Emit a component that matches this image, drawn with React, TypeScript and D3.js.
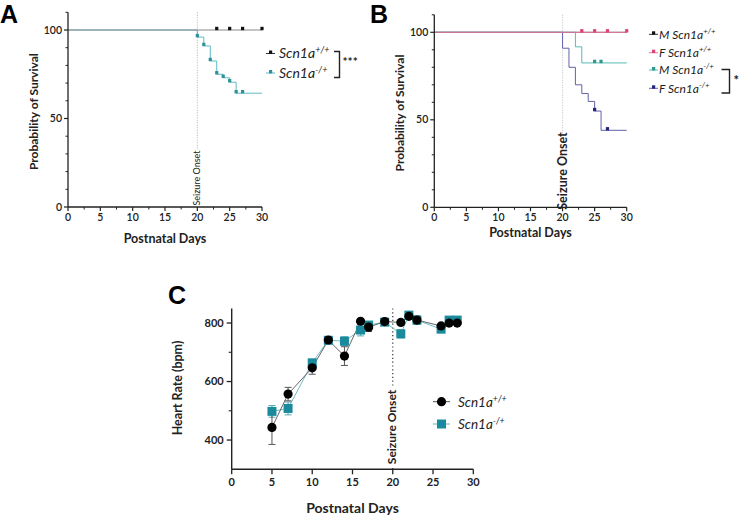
import React from 'react';
import * as d3 from 'd3';

// ---------- data ----------
const survXTicks = [0, 5, 10, 15, 20, 25, 30];
const survXMinor = [2.5, 7.5, 12.5, 17.5, 22.5, 27.5];
const survYTicks = [0, 50, 100];
const survYMinor = [10, 20, 30, 40, 60, 70, 80, 90, 110];
const seizureDay = 20;

// Panel A
const aWtSteps = [{ t: 0, s: 100 }];
const aWtCensor = [23, 25, 27, 30];
const aHetSteps = [
  { t: 0, s: 100 }, { t: 20, s: 96 }, { t: 21, s: 91 }, { t: 22, s: 82.5 },
  { t: 23, s: 75 }, { t: 24, s: 73 }, { t: 25, s: 70.5 }, { t: 26, s: 64.3 },
];
const aHetCensor = [20, 21, 22, 23, 24, 25, 26, 27];

// Panel B
const bMWtSteps = [{ t: 0, s: 100 }];
const bFWtSteps = [{ t: 0, s: 100 }];
const bFWtCensor = [23, 25, 27, 30];
const bMHetSteps = [{ t: 0, s: 100 }, { t: 22, s: 91.7 }, { t: 23, s: 82.5 }];
const bMHetCensor = [25, 26];
const bFHetSteps = [
  { t: 0, s: 100 }, { t: 20, s: 90.9 }, { t: 21, s: 80 }, { t: 22, s: 70 },
  { t: 23, s: 65 }, { t: 24, s: 60.5 }, { t: 25, s: 55 }, { t: 26, s: 44 },
];
const bFHetCensor = [25, 27];

// Panel C
const hrDays = [5, 7, 10, 12, 14, 16, 17, 19, 21, 22, 23, 26, 27, 28];
const wtHR = [443, 557, 647, 742, 687, 806, 786, 805, 802, 823, 810, 790, 800, 800];
const wtErr = [58, 23, 22, 8, 32, 6, 15, 6, 6, 6, 12, 6, 5, 5];
const hetHR = [498, 508, 664, 741, 738, 776, 793, 803, 763, 827, 810, 779, 810, 810];
const hetErr = [20, 22, 10, 8, 15, 20, 10, 8, 14, 6, 15, 8, 5, 5];
const hrXTicks = [0, 5, 10, 15, 20, 25, 30];
const hrYTicks = [400, 600, 800];
const hrYMinor = [500, 700];

const TICK_FONT = 'Lato, "Open Sans", sans-serif';
const LETTER_FONT = '"Liberation Sans", Arial, sans-serif';

type Step = { t: number; s: number };

function survAt(steps: Step[], t: number) {
  let v = steps[0].s;
  for (const st of steps) if (st.t <= t) v = st.s;
  return v;
}

function StepCurve({ steps, x, y, color, tickColor, censor, end }: any) {
  const pts = [...steps, { t: end, s: steps[steps.length - 1].s }];
  const line = d3.line<Step>().x(d => x(d.t)).y(d => y(d.s)).curve(d3.curveStepAfter);
  return (
    <g>
      <path d={line(pts) || ''} fill="none" stroke={color} strokeWidth={1} />
      {(censor || []).map((c: number, i: number) => (
        <rect key={i} x={x(c) - 1.6} y={y(survAt(steps, c)) - 3.2} width={3.2} height={3.4} fill={tickColor} />
      ))}
    </g>
  );
}

function SurvAxes({ x, y, titleY, yTitleX }: any) {
  const [x0, x1] = x.range();
  const [y0, y1] = y.range();
  return (
    <g fontFamily={TICK_FONT} fill="#222">
      <line x1={x0} x2={x0} y1={y0} y2={y1} stroke="#222" strokeWidth={1.3} />
      <line x1={x0} x2={x1} y1={y0} y2={y0} stroke="#222" strokeWidth={1.3} />
      {survYTicks.map(v => (
        <g key={v}>
          <line x1={x0 - 4} x2={x0} y1={y(v)} y2={y(v)} stroke="#222" strokeWidth={1.2} />
          <text x={x0 - 6} y={y(v)} dy="0.35em" textAnchor="end" fontSize={10.5} fontWeight={600}>{v}</text>
        </g>
      ))}
      {survYMinor.map(v => (
        <line key={v} x1={x0 - 2.5} x2={x0} y1={y(v)} y2={y(v)} stroke="#222" strokeWidth={1} />
      ))}
      {survXTicks.map(v => (
        <g key={v}>
          <line x1={x(v)} x2={x(v)} y1={y0} y2={y0 + 4} stroke="#222" strokeWidth={1.2} />
          <text x={x(v)} y={y0 + 14} textAnchor="middle" fontSize={10.5} fontWeight={600}>{v}</text>
        </g>
      ))}
      {survXMinor.map(v => (
        <line key={v} x1={x(v)} x2={x(v)} y1={y0} y2={y0 + 2.5} stroke="#222" strokeWidth={1} />
      ))}
      <text x={(x0 + x1) / 2} y={titleY} textAnchor="middle" fontSize={12.5} fontWeight={700}>Postnatal Days</text>
      <text transform={`translate(${yTitleX},${(y0 + y1) / 2 + 2}) rotate(-90)`} textAnchor="middle" fontSize={12} fontWeight={700}>Probability of Survival</text>
    </g>
  );
}

function Geno({ x, y, sup, prefix, size = 12.5 }: any) {
  return (
    <text x={x} y={y} fontFamily={TICK_FONT} fontStyle="italic" fontSize={size} fill="#222" dy="0.35em">
      {prefix ? prefix + ' ' : ''}Scn1a<tspan dy={-5} fontSize={size * 0.65}>{sup}</tspan>
    </text>
  );
}

function LegendTick({ x, y, color, tick }: any) {
  return (
    <g>
      <line x1={x} x2={x + 9} y1={y} y2={y} stroke={color} strokeWidth={1} />
      <rect x={x + 3} y={y - 3} width={3.2} height={3.4} fill={tick} />
    </g>
  );
}

export default function App() {
  // Panel A
  const ax = d3.scaleLinear().domain([0, 30]).range([68, 262]);
  const ay = d3.scaleLinear().domain([0, 110]).range([207, 12.3]);
  // Panel B
  const bx = d3.scaleLinear().domain([0, 30]).range([434.3, 626.7]);
  const by = d3.scaleLinear().domain([0, 110]).range([207.3, 14.8]);
  // Panel C
  const cx = d3.scaleLinear().domain([0, 30]).range([231.7, 473.3]);
  const cy = d3.scaleLinear().domain([300, 850]).range([469.3, 308.4]);

  const aCyan = '#5cbcc6';
  const aCyanTick = '#2f8f9a';
  const pink = '#e77aa3';
  const pinkTick = '#e0407c';
  const mTeal = '#55bcb4';
  const mTealTick = '#2a9a92';
  const navy = '#6262a8';
  const navyTick = '#25237a';

  const cTeal = '#1a8b9c';
  const hrLine = d3.line<number>().x((_, i) => cx(hrDays[i])).y(d => cy(d));

  return (
    <svg width={743} height={516} style={{ position: 'absolute', left: 0, top: 0, background: '#fff' }}>
      <rect width={743} height={516} fill="#fff" />
      {/* ---------- Panel A ---------- */}
      <text x={0} y={23} fontFamily={LETTER_FONT} fontWeight={700} fontSize={25} fill="#000">A</text>
      <line x1={ax(seizureDay)} x2={ax(seizureDay)} y1={ay(110)} y2={ay(0)} stroke="#9a9a9a" strokeWidth={0.8} strokeDasharray="1,1.5" />
      <StepCurve steps={aHetSteps} x={ax} y={ay} color={aCyan} tickColor={aCyanTick} censor={aHetCensor} end={30} />
      <StepCurve steps={aWtSteps} x={ax} y={ay} color="#8a8a8a" tickColor="#111" censor={aWtCensor} end={30} />
      <SurvAxes x={ax} y={ay} titleY={243} yTitleX={38} />
      <rect x={ax(seizureDay) - 4.5} y={150} width={8} height={56} fill="#fff" />
      <text transform={`translate(${ax(seizureDay) + 3},${178}) rotate(-90)`} textAnchor="middle" fontFamily={TICK_FONT} fontSize={9} fill="#222">Seizure Onset</text>
      <LegendTick x={266} y={53.5} color="#333" tick="#111" />
      <Geno x={279} y={53.5} sup="+/+" size={14} />
      <LegendTick x={266} y={73} color={aCyan} tick={aCyanTick} />
      <Geno x={279} y={73} sup="-/+" size={14} />
      <path d="M334,51.5 H339.5 V77.5 H334" fill="none" stroke="#222" strokeWidth={1.4} />
      <text x={342.5} y={66} fontFamily={TICK_FONT} fontSize={12} fontWeight={700} fill="#222">***</text>

      {/* ---------- Panel B ---------- */}
      <text x={370} y={23} fontFamily={LETTER_FONT} fontWeight={700} fontSize={25} fill="#000">B</text>
      <line x1={bx(seizureDay)} x2={bx(seizureDay)} y1={by(110)} y2={by(0)} stroke="#b0b0b0" strokeWidth={0.8} strokeDasharray="1,1.5" />
      <StepCurve steps={bFHetSteps} x={bx} y={by} color={navy} tickColor={navyTick} censor={bFHetCensor} end={30} />
      <StepCurve steps={bMHetSteps} x={bx} y={by} color={mTeal} tickColor={mTealTick} censor={bMHetCensor} end={30} />
      <StepCurve steps={bMWtSteps} x={bx} y={by} color="#555" tickColor="#111" censor={[]} end={30} />
      <StepCurve steps={bFWtSteps} x={bx} y={by} color={pink} tickColor={pinkTick} censor={bFWtCensor} end={30} />
      <SurvAxes x={bx} y={by} titleY={237} yTitleX={404} />
      <rect x={bx(seizureDay) - 6} y={134} width={12} height={72} fill="#fff" />
      <text transform={`translate(${bx(seizureDay) + 4.5},${171}) rotate(-90)`} textAnchor="middle" fontFamily={TICK_FONT} fontSize={12.5} fontWeight={700} fill="#222">Seizure Onset</text>
      <LegendTick x={649} y={34.3} color="#333" tick="#111" />
      <Geno x={659} y={34.3} prefix="M" sup="+/+" size={12} />
      <LegendTick x={649} y={52.7} color={pink} tick={pinkTick} />
      <Geno x={659} y={52.7} prefix="F" sup="+/+" size={12} />
      <LegendTick x={649} y={70} color={mTeal} tick={mTealTick} />
      <Geno x={659} y={70} prefix="M" sup="-/+" size={12} />
      <LegendTick x={649} y={88.3} color={navy} tick={navyTick} />
      <Geno x={659} y={88.3} prefix="F" sup="-/+" size={12} />
      <path d="M721.5,69.5 H729.5 V93 H721.5" fill="none" stroke="#222" strokeWidth={1.4} />
      <text x={733.5} y={85} fontFamily={TICK_FONT} fontSize={13} fontWeight={700} fill="#222">*</text>

      {/* ---------- Panel C ---------- */}
      <text x={168} y={304} fontFamily={LETTER_FONT} fontWeight={700} fontSize={25} fill="#000">C</text>
      <line x1={cx(seizureDay)} x2={cx(seizureDay)} y1={cy(850)} y2={cy(300)} stroke="#333" strokeWidth={1.2} strokeDasharray="1.2,2.6" />
      {/* lines */}
      <path d={hrLine(hetHR) || ''} fill="none" stroke="#62b3c0" strokeWidth={0.9} />
      <path d={hrLine(wtHR) || ''} fill="none" stroke="#555" strokeWidth={0.9} />
      {/* error bars */}
      {hetHR.map((v, i) => (
        <g key={'he' + i} stroke="#5aaab8" strokeWidth={1}>
          <line x1={cx(hrDays[i])} x2={cx(hrDays[i])} y1={cy(v - hetErr[i])} y2={cy(v + hetErr[i])} />
          <line x1={cx(hrDays[i]) - 3.5} x2={cx(hrDays[i]) + 3.5} y1={cy(v - hetErr[i])} y2={cy(v - hetErr[i])} />
          <line x1={cx(hrDays[i]) - 3.5} x2={cx(hrDays[i]) + 3.5} y1={cy(v + hetErr[i])} y2={cy(v + hetErr[i])} />
        </g>
      ))}
      {wtHR.map((v, i) => (
        <g key={'we' + i} stroke="#555" strokeWidth={1}>
          <line x1={cx(hrDays[i])} x2={cx(hrDays[i])} y1={cy(v - wtErr[i])} y2={cy(v + wtErr[i])} />
          <line x1={cx(hrDays[i]) - 3.5} x2={cx(hrDays[i]) + 3.5} y1={cy(v - wtErr[i])} y2={cy(v - wtErr[i])} />
          <line x1={cx(hrDays[i]) - 3.5} x2={cx(hrDays[i]) + 3.5} y1={cy(v + wtErr[i])} y2={cy(v + wtErr[i])} />
        </g>
      ))}
      {hetHR.map((v, i) => (
        <rect key={'hs' + i} x={cx(hrDays[i]) - 4.5} y={cy(v) - 4.5} width={9} height={9} fill={cTeal} />
      ))}
      {wtHR.map((v, i) => (
        <circle key={'wc' + i} cx={cx(hrDays[i])} cy={cy(v)} r={4.6} fill="#000" />
      ))}
      {/* axes */}
      <g fontFamily={TICK_FONT} fill="#222">
        <line x1={cx(0)} x2={cx(0)} y1={cy(300)} y2={cy(850)} stroke="#222" strokeWidth={1.4} />
        <line x1={cx(0)} x2={cx(30)} y1={cy(300)} y2={cy(300)} stroke="#222" strokeWidth={1.4} />
        {hrYTicks.map(v => (
          <g key={v}>
            <line x1={cx(0) - 5} x2={cx(0)} y1={cy(v)} y2={cy(v)} stroke="#222" strokeWidth={1.3} />
            <text x={cx(0) - 8} y={cy(v)} dy="0.35em" textAnchor="end" fontSize={11} fontWeight={700}>{v}</text>
          </g>
        ))}
        {hrYMinor.map(v => (
          <line key={v} x1={cx(0) - 3} x2={cx(0)} y1={cy(v)} y2={cy(v)} stroke="#222" strokeWidth={1.1} />
        ))}
        {hrXTicks.map(v => (
          <g key={v}>
            <line x1={cx(v)} x2={cx(v)} y1={cy(300)} y2={cy(300) + 5} stroke="#222" strokeWidth={1.3} />
            <text x={cx(v)} y={cy(300) + 17} textAnchor="middle" fontSize={11} fontWeight={700}>{v}</text>
          </g>
        ))}
        <text x={(cx(0) + cx(30)) / 2} y={513} textAnchor="middle" fontSize={14} fontWeight={700}>Postnatal Days</text>
        <text transform={`translate(${182},${388}) rotate(-90)`} textAnchor="middle" fontSize={12.5} fontWeight={700}>Heart Rate (bpm)</text>
      </g>
      <rect x={cx(seizureDay) - 6} y={386} width={10} height={82} fill="#fff" />
      <text transform={`translate(${cx(seizureDay) + 3.5},${427}) rotate(-90)`} textAnchor="middle" fontFamily={TICK_FONT} fontSize={12} fontWeight={700} fill="#222">Seizure Onset</text>
      {/* legend */}
      <line x1={433} x2={450} y1={401.7} y2={401.7} stroke="#555" strokeWidth={1} />
      <circle cx={441.5} cy={401.7} r={4.6} fill="#000" />
      <Geno x={458} y={402} sup="+/+" size={13.5} />
      <line x1={433} x2={450} y1={424} y2={424} stroke="#62b3c0" strokeWidth={1} />
      <rect x={437} y={419.5} width={9} height={9} fill={cTeal} />
      <Geno x={458} y={424.5} sup="-/+" size={13.5} />
    </svg>
  );
}
